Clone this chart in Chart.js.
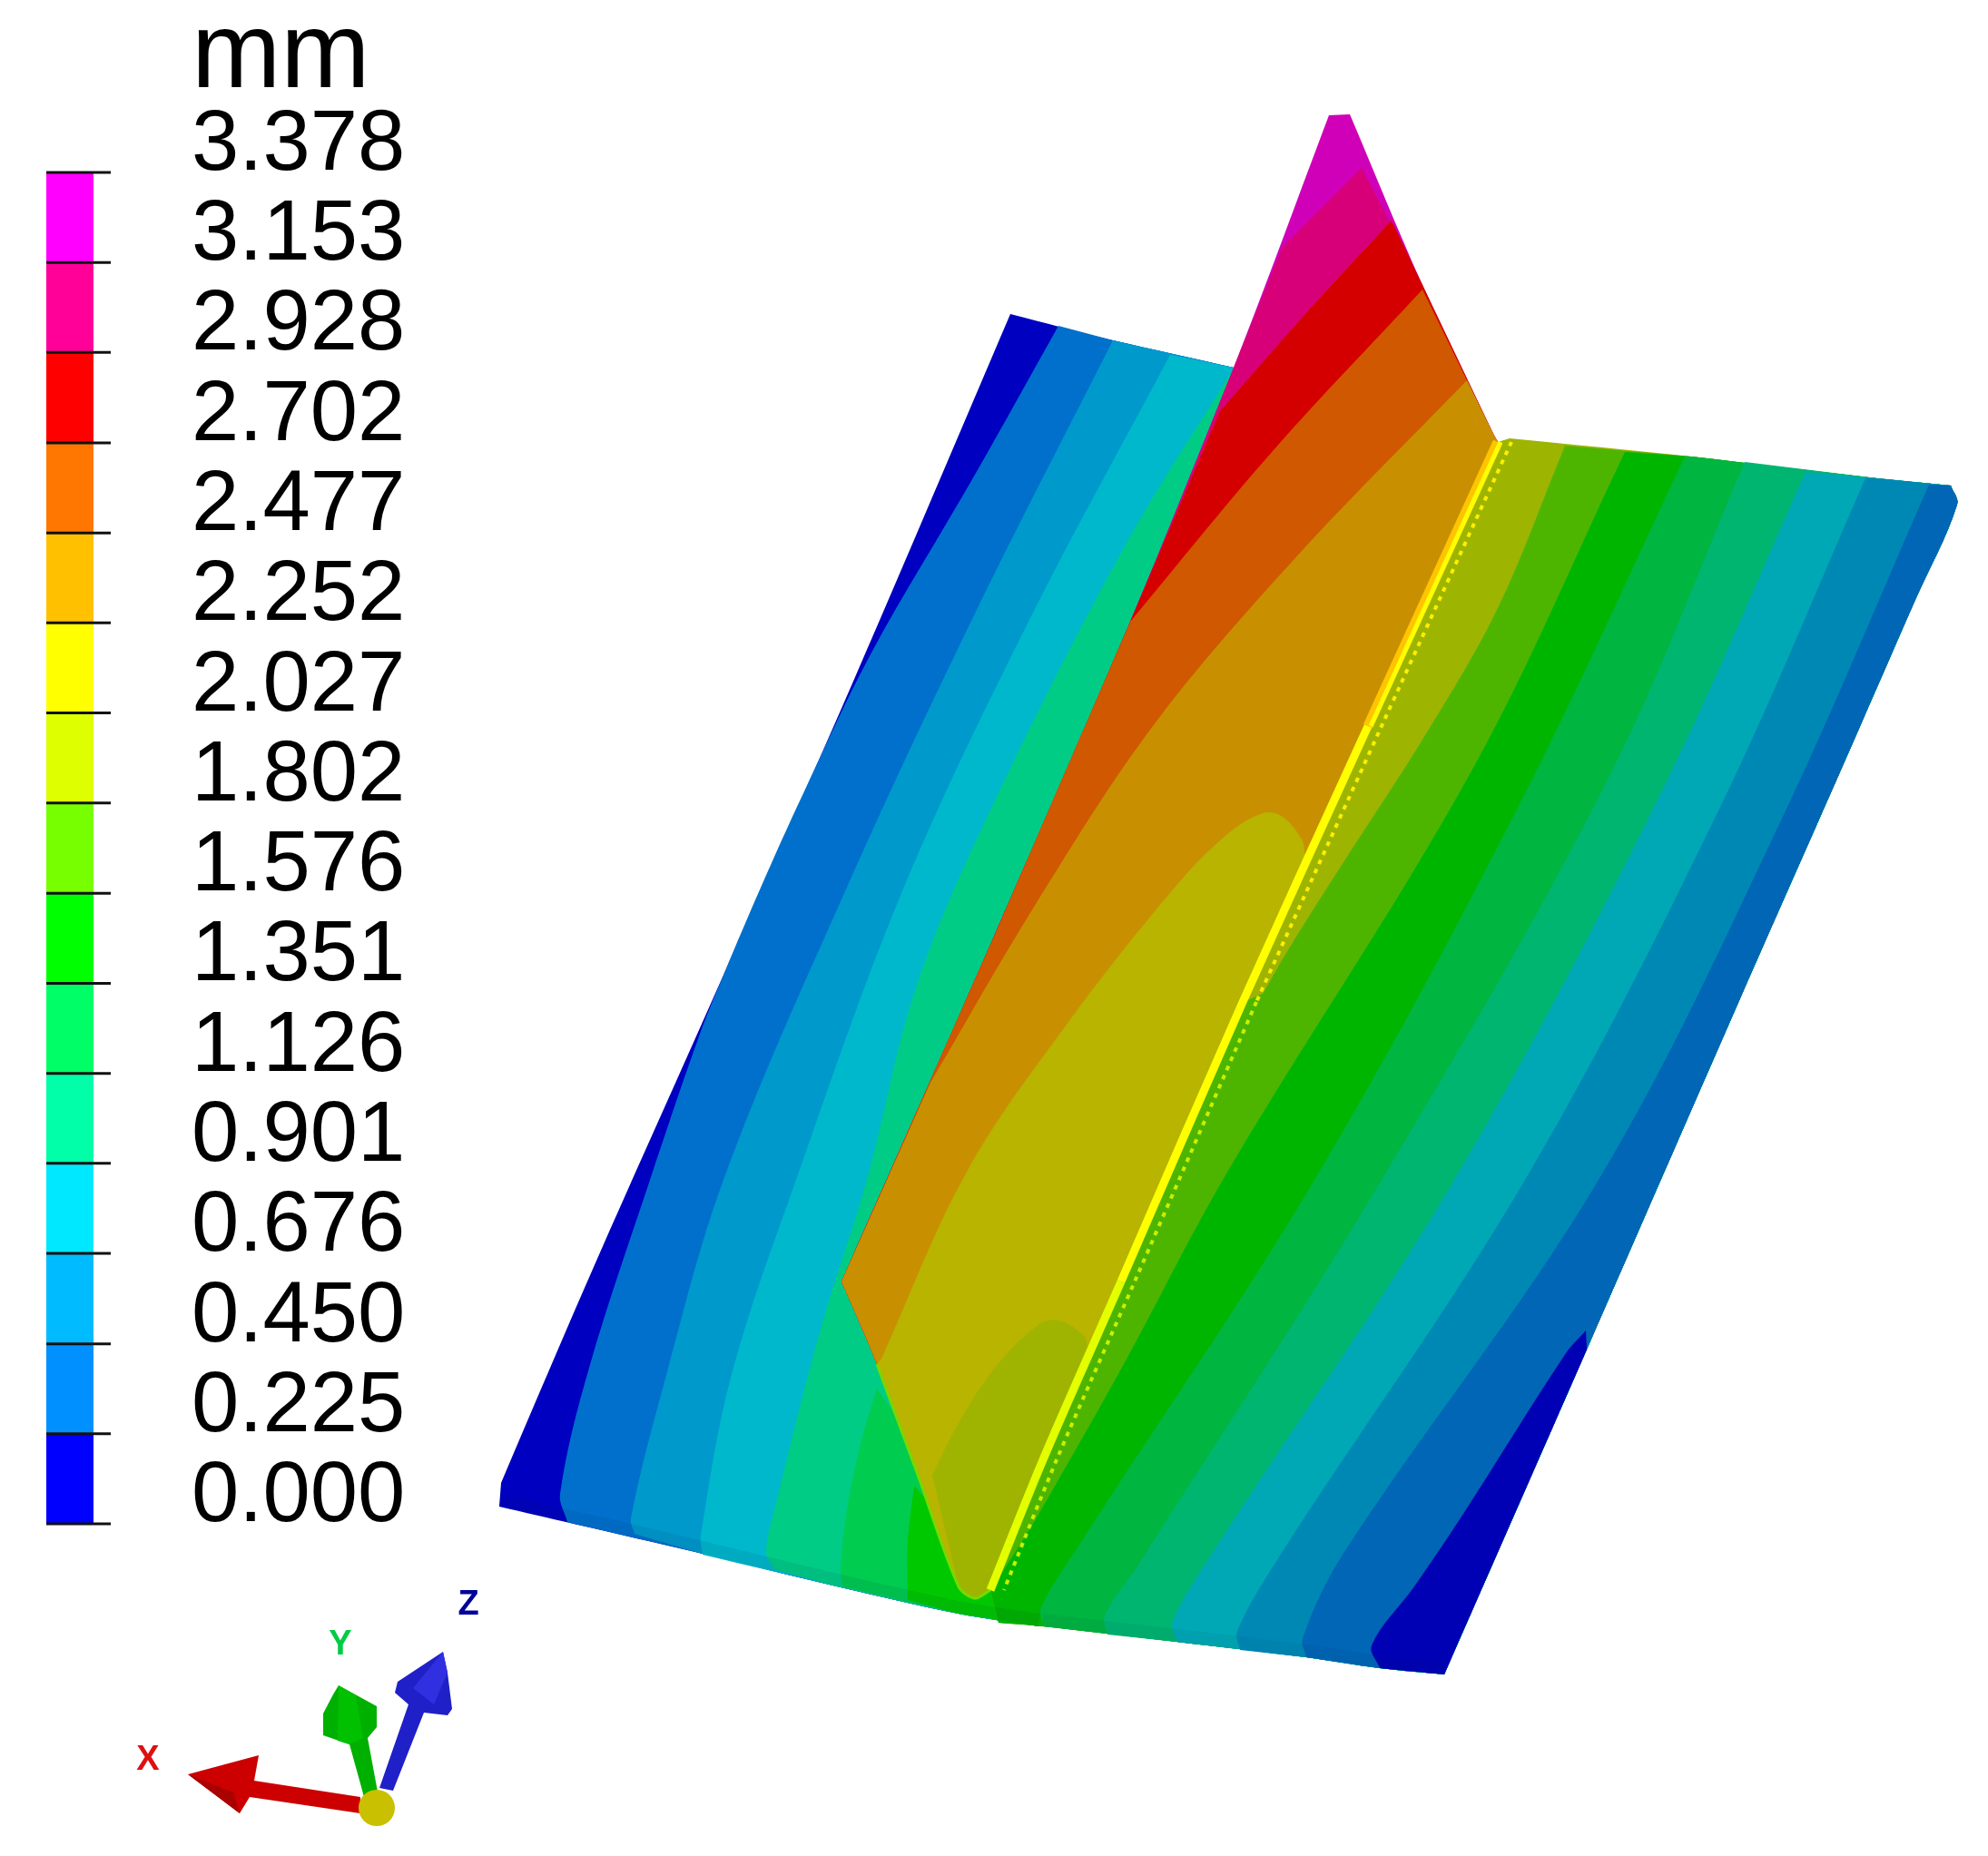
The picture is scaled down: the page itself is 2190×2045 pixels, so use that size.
<!DOCTYPE html>
<html>
<head>
<meta charset="utf-8">
<style>
  html, body { margin: 0; padding: 0; background: #fff; }
  canvas { display: block; }
</style>
<script src="https://cdn.jsdelivr.net/npm/chart.js@4"></script>
</head>
<body>
<canvas id="plot" width="2190" height="2045"></canvas>
<script>
// colour bar
const legendTitle = 'mm';
const legendLabels = ['3.378','3.153','2.928','2.702','2.477','2.252','2.027','1.802','1.576','1.351','1.126','0.901','0.676','0.450','0.225','0.000'];
const legendColors = ['#ff00ff','#ff0099','#ff0000','#ff7700','#ffc000','#ffff00','#ddff00','#77ff00','#00ff00','#00ff66','#00ffa8','#00e8ff','#00bbff','#0090ff','#0000ff'];

// plate outlines
const topLeftEdge = [[1113,346],[1226,375],[1359,405]];
const leftEdge = [[1113,346],[942,746],[798,1072],[654,1396],[574,1582],[552,1634]];
const bottomLeftEdge = [[550,1660],[632,1679],[770,1711],[922,1748],[1056,1778],[1145,1792]];
const bottomRightEdge = [[1100,1788],[1149,1792],[1296,1809],[1439,1826],[1520,1838],[1591,1845]];
const rightEdge = [[1591,1845],[1748,1487],[1917,1100],[2029,846],[2109,663],[2156,556],[2149,535]];
const topRightEdge = [[1663,483],[1863,503],[2068,527],[2149,535]];

// contour lines on the left plate
const leftBand1 = [[1166,359],[1074,523],[959,721],[885,874],[838,978],[798,1072],[770,1142],[716,1300],[649,1507],[617,1646],[625,1677]];
const leftBand2 = [[1226,375],[1074,676],[931,982],[797,1300],[730,1530],[695,1673],[699,1690]];
const leftBand3 = [[1289,391],[1131,689],[994,982],[877,1300],[806,1514],[772,1692],[774,1713]];
const leftBand4 = [[1355,412],[1240,600],[1097,880],[1010,1085],[955,1300],[904,1464],[853,1664],[844,1710],[853,1729]];
const leftBand5 = [[966,1530],[949,1587],[933,1664],[926,1729],[928,1748]];
const leftBand6 = [[1007,1637],[1000,1698],[1000,1763]];

// contour lines on the right plate
const rightBand1 = [[1724,491],[1650,670],[1570,810],[1480,950],[1420,1045],[1391,1095]];
const rightBand2 = [[1790,498],[1623,846],[1350,1295],[1238,1503],[1145,1667],[1125,1700]];
const rightBand3 = [[1856,503],[1676,882],[1448,1300],[1189,1702],[1147,1771],[1149,1792]];
const rightBand4 = [[1922,509],[1773,855],[1522,1300],[1256,1721],[1217,1780],[1220,1801]];
const rightBand5 = [[1989,520],[1830,873],[1602,1300],[1337,1709],[1292,1786],[1296,1809]];
const rightBand6 = [[2055,527],[1896,887],[1680,1300],[1408,1717],[1363,1797],[1366,1818]];
const rightBand7 = [[2125,534],[1962,904],[1761,1300],[1479,1713],[1435,1805],[1439,1826]];
const rightBand8 = [[1747,1466],[1725,1491],[1610,1671],[1558,1748],[1511,1813],[1520,1838]];

// the fin
const finLeft = [[1464,127],[1359,405],[1245,685],[1097,1027],[927,1412]];
const finRight = [[1487,126],[1567,314],[1645,478]];
const finLower = [[927,1412],[966,1503],[1011,1625],[1056,1748],[1074,1761],[1091,1752]];
const weld = [[1650,487],[1507,800],[1369,1104],[1235,1412],[1150,1606],[1091,1752]];
const finCut1 = [[1413,272],[1500,185]];
const finCut2 = [[1344,453],[1446,337],[1533,243]];
const finCut3 = [[1245,685],[1402,497],[1567,319]];
const finCut4 = [[1025,1193],[1141,996],[1270,800],[1424,618],[1616,419]];
const finCut5 = [[971,1497],[1065,1291],[1177,1126],[1293,979],[1351,920],[1391,896],[1413,900],[1434,925],[1438,943]];
const finCut6 = [[1027,1625],[1056,1568],[1096,1507],[1145,1459],[1167,1455],[1194,1472],[1198,1484]];

const leftColors = ['#0000c0','#0070cc','#0099cc','#00b8cc','#00cc85','#00cc50','#00c800'];
const rightColors = ['#9db500','#4db500','#00b500','#00b540','#00b570','#00a8b5','#0088b5','#0066b5','#0000b5'];
const finColors = ['#d000b8','#d80078','#d40000','#d05800','#c89000','#b8b400','#9fb400'];

// orientation triad
const triadLabels = ['X','Y','Z'];
const triadLabelAt = [[163,1950],[375,1823],[516,1779]];
const triadLabelColors = ['#dd1111','#00cc44','#000099'];
const arrowX = [[397,1980],[280,1962],[285,1934],[207,1955],[264,1998],[275,1980],[397,1998]];
const arrowXShade = [[207,1955],[257,1975],[264,1998]];
const arrowY = [[373,1857],[415,1880],[415,1903],[405,1915],[418,1985],[403,1987],[385,1922],[356,1912],[356,1888],[367,1867]];
const arrowYShade = [[373,1857],[392,1868],[400,1915],[385,1922],[372,1918]];
const arrowZ = [[488,1820],[493,1843],[498,1883],[493,1890],[467,1887],[433,1973],[418,1970],[450,1878],[435,1865],[438,1853]];
const arrowZShade = [[488,1820],[493,1843],[478,1878],[455,1860]];
const triadOrigin = [[415,1992]];

const toPoints = list => list.map(p => ({ x: p[0], y: p[1] }));

// each run is drawn as one smooth curve; doubling its ends keeps the corners between runs sharp
const joinRuns = (...runs) => runs.flatMap(r => r.length ? [r[0], ...r, r[r.length - 1]] : []);
const rev = list => list.slice().reverse();

function polygon(list, color, tension) {
  return { data: toPoints(list), showLine: true, fill: 'shape', tension: tension || 0, backgroundColor: color, borderWidth: 0, pointRadius: 0 };
}
function stroke(list, color, width, dash) {
  return { data: toPoints(list), showLine: true, fill: false, tension: 0.3, borderColor: color, borderWidth: width, borderDash: dash || [], pointRadius: 0 };
}

// plate bands: contour line, then round the plate edge back to its start
function leftRegion(cut) {
  const first = cut[0], last = cut[cut.length - 1];
  return joinRuns(cut, bottomLeftEdge.filter(p => p[0] > last[0]), rev(topLeftEdge.filter(p => p[0] > first[0])));
}
function rightRegion(cut) {
  const first = cut[0], last = cut[cut.length - 1];
  const endsOnWeld = last[1] < 1780;
  const onSide = first[1] > 600;
  return joinRuns(
    cut,
    endsOnWeld ? weld.filter(p => p[1] > last[1]) : [],
    bottomRightEdge.filter(p => endsOnWeld || p[0] > last[0]),
    onSide ? rightEdge.filter(p => p[1] > first[1]) : rightEdge,
    onSide ? [] : rev(topRightEdge.filter(p => p[0] > first[0]))
  );
}
function finRegion(cut) {
  const first = cut[0], last = cut[cut.length - 1];
  return joinRuns(
    cut,
    finRight.filter(p => p[1] > last[1]),
    weld.filter(p => p[1] > last[1]),
    rev(finLower.filter(p => p[1] > first[1])),
    rev(finLeft.filter(p => p[1] > first[1]))
  );
}

const smooth = 0.35;
// painter's order, first one ends up at the bottom
const layers = [];
layers.push(polygon(joinRuns(leftEdge, bottomLeftEdge, rev(topLeftEdge)), leftColors[0], smooth));
[leftBand1, leftBand2, leftBand3, leftBand4].forEach((b, i) => layers.push(polygon(leftRegion(b), leftColors[i + 1], smooth)));
[leftBand5, leftBand6].forEach((b, i) => layers.push(polygon(joinRuns(b, bottomLeftEdge.filter(p => p[0] > b[b.length - 1][0])), leftColors[i + 5], smooth)));

layers.push(polygon(joinRuns(topRightEdge, rev(rightEdge), rev(bottomRightEdge), rev(weld)), rightColors[0], smooth));
[rightBand1, rightBand2, rightBand3, rightBand4, rightBand5, rightBand6, rightBand7, rightBand8].forEach((b, i) => {
  layers.push(polygon(rightRegion(b), rightColors[i + 1], smooth));
});
// darker front face along the plate's lower edge
layers.push(stroke(bottomLeftEdge.map(p => [p[0], p[1] - 7]), 'rgba(0,30,60,0.08)', 14));
layers.push(stroke(bottomRightEdge.slice(1).map(p => [p[0], p[1] - 7]), 'rgba(0,30,60,0.06)', 14));

layers.push(polygon(joinRuns(finLeft, finLower, rev(weld), rev(finRight)), finColors[0], smooth));
[finCut1, finCut2, finCut3, finCut4, finCut5, finCut6].forEach((c, i) => layers.push(polygon(finRegion(c), finColors[i + 1], smooth)));

layers.push(stroke(finLower.slice(1), '#78d800', 3));
layers.push(stroke(weld.slice(0, 2), '#ffc400', 11));
layers.push(stroke(weld.slice(1, 4), '#ffff00', 9));
layers.push(stroke(weld.slice(0, 2).map(p => [p[0] + 3, p[1]]), '#ffff00', 5));
layers.push(stroke(weld.slice(3), '#e4ff00', 9));
layers.push(stroke(weld.slice(0, 3).map(p => [p[0] + 15, p[1]]), '#ffee00', 4, [5, 6]));
layers.push(stroke(weld.slice(2).map(p => [p[0] + 15, p[1]]), '#c8f000', 4, [5, 6]));

layers.push(polygon(arrowX, '#cc0000'));
layers.push(polygon(arrowXShade, '#aa0000'));
layers.push(polygon(arrowY, '#00b000'));
layers.push(polygon(arrowYShade, '#00c000'));
layers.push(polygon(arrowZ, '#2020c8'));
layers.push(polygon(arrowZShade, '#3030e0'));
layers.push({ data: toPoints(triadOrigin), pointRadius: 20, pointBackgroundColor: '#c8c000', pointBorderWidth: 0, showLine: false });

// colour bar and its ticks sit on their own value axis
const legendBar = [51, 103];
const legendTickEnd = 122;
legendColors.forEach((c, i) => {
  const hi = parseFloat(legendLabels[i]), lo = parseFloat(legendLabels[i + 1]);
  const band = polygon([[legendBar[0], hi], [legendBar[1], hi], [legendBar[1], lo], [legendBar[0], lo]], c);
  band.yAxisID = 'legend';
  layers.push(band);
});
const tickPoints = [];
legendLabels.forEach(l => {
  const v = parseFloat(l);
  tickPoints.push({ x: legendBar[0], y: v }, { x: legendTickEnd, y: v }, { x: null, y: null });
});
layers.push({ data: tickPoints, yAxisID: 'legend', showLine: true, fill: false, borderColor: '#111', borderWidth: 3, pointRadius: 0, spanGaps: false });

layers.forEach((d, i) => { d.order = layers.length - i; });

// pixel rows of 0.000 and 3.378 on the colour bar give the axis range
const pxPerValue = (1679 - 190) / 3.378;

const textPlugin = {
  id: 'textPlugin',
  afterDatasetsDraw(chart) {
    const { ctx, scales } = chart;
    ctx.save();
    ctx.fillStyle = '#000';
    ctx.textBaseline = 'alphabetic';
    ctx.textAlign = 'left';
    ctx.font = '94px "Liberation Sans"';
    legendLabels.forEach(l => {
      ctx.fillText(l, scales.x.getPixelForValue(211), scales.legend.getPixelForValue(parseFloat(l)) - 3);
    });
    ctx.font = '118px "Liberation Sans"';
    ctx.fillText(legendTitle, scales.x.getPixelForValue(211), scales.y.getPixelForValue(96));
    ctx.font = 'bold 38px "Liberation Sans"';
    ctx.textAlign = 'center';
    triadLabels.forEach((l, i) => {
      ctx.fillStyle = triadLabelColors[i];
      ctx.fillText(l, scales.x.getPixelForValue(triadLabelAt[i][0]), scales.y.getPixelForValue(triadLabelAt[i][1]));
    });
    ctx.restore();
  }
};

new Chart(document.getElementById('plot').getContext('2d'), {
  type: 'scatter',
  data: { datasets: layers },
  plugins: [textPlugin],
  options: {
    responsive: false,
    animation: false,
    events: [],
    layout: { padding: 0, autoPadding: false },
    scales: {
      x: { type: 'linear', display: false, min: 0, max: 2190 },
      y: { type: 'linear', display: false, min: 0, max: 2045, reverse: true },
      legend: { type: 'linear', display: false, min: -(2045 - 1679) / pxPerValue, max: 1679 / pxPerValue }
    },
    plugins: { legend: { display: false }, tooltip: { enabled: false } }
  }
});
</script>
</body>
</html>
